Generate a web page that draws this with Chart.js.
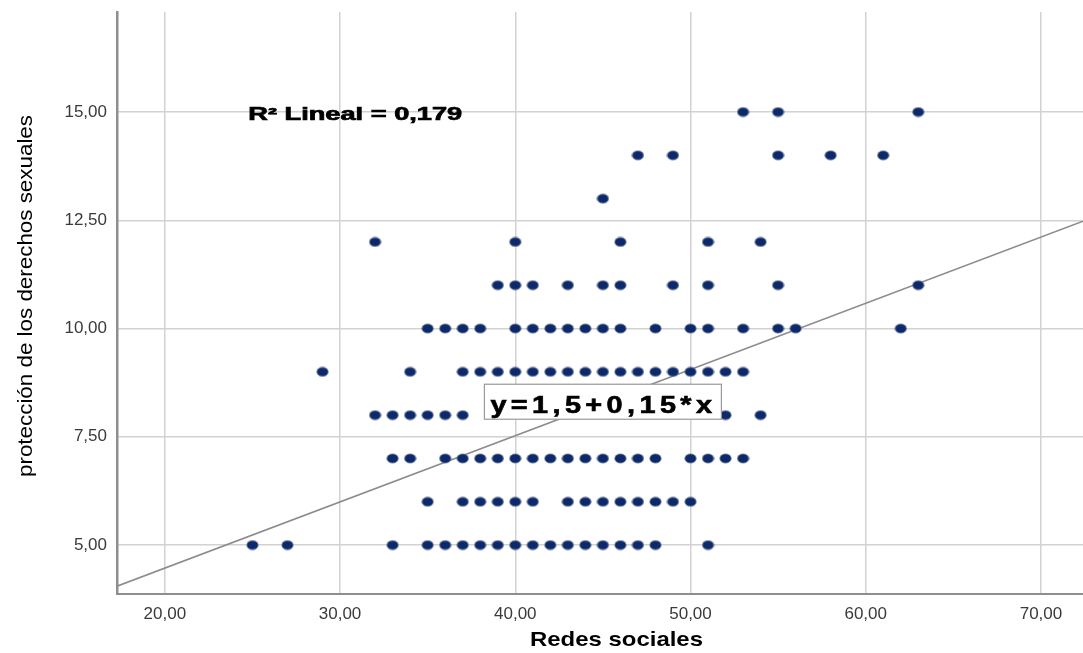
<!DOCTYPE html>
<html lang="es">
<head>
<meta charset="UTF-8">
<title>Redes sociales y protección de los derechos sexuales</title>
<script src="https://cdn.jsdelivr.net/npm/chart.js"></script>
<style>
  html, body { margin: 0; padding: 0; background: #fff; }
  #wrap { width: 1083px; height: 653px; }
</style>
</head>
<body>
<div id="wrap"><canvas id="scatterChart" width="1083" height="653"></canvas></div>
<script>
// Redes sociales (x) de cada caso, agrupado por puntaje de protección (y)
const redesY15 = [53, 55, 63];
const redesY14 = [47, 49, 55, 58, 61];
const redesY13 = [45];
const redesY12 = [32, 40, 46, 51, 54];
const redesY11 = [39, 40, 41, 43, 45, 46, 49, 51, 55, 63];
const redesY10 = [35, 36, 37, 38, 40, 41, 42, 43, 44, 45, 46, 48, 50, 51, 53, 55, 56, 62];
const redesY9 = [29, 34, 37, 38, 39, 40, 41, 42, 43, 44, 45, 46, 47, 48, 49, 50, 51, 52, 53];
const redesY8 = [32, 33, 34, 35, 36, 37, 52, 54];
const redesY7 = [33, 34, 36, 37, 38, 39, 40, 41, 42, 43, 44, 45, 46, 47, 48, 50, 51, 52, 53];
const redesY6 = [35, 37, 38, 39, 40, 41, 43, 44, 45, 46, 47, 48, 49, 50];
const redesY5 = [25, 27, 33, 35, 36, 37, 38, 39, 40, 41, 42, 43, 44, 45, 46, 47, 48, 51];

const proteccionNiveles = [15, 14, 13, 12, 11, 10, 9, 8, 7, 6, 5];
const redesPorNivel = [redesY15, redesY14, redesY13, redesY12, redesY11, redesY10,
                       redesY9, redesY8, redesY7, redesY6, redesY5];

// recta de ajuste (extremos)
const ajusteX = [17.27, 72.4];
const ajusteY = [4.05, 12.48];

const xTicks = [20, 30, 40, 50, 60, 70];
const yTicks = [5, 7.5, 10, 12.5, 15];

const tituloX = 'Redes sociales';
const tituloY = 'protección de los derechos sexuales';
const r2Texto = 'R² Lineal = 0,179';
const ecuacionTexto = 'y=1,5+0,15*x';

// puntos del diagrama
var puntos = [];
proteccionNiveles.forEach(function(nivel, i) {
    redesPorNivel[i].forEach(function(v) {
        puntos.push({ x: v, y: nivel });
    });
});
var recta = ajusteX.map(function(v, i) { return { x: v, y: ajusteY[i] }; });

// marcador ovalado como el de SPSS
function crearMarcador() {
    var c = document.createElement('canvas');
    c.width = 13; c.height = 11;
    var g = c.getContext('2d');
    g.beginPath();
    g.ellipse(6.5, 5.5, 5.7, 4.6, 0, 0, Math.PI * 2);
    g.fillStyle = '#0c2a6b';
    g.fill();
    g.lineWidth = 0.8;
    g.strokeStyle = '#707a94';
    g.stroke();
    return c;
}

function formatoComa(value) {
    return value.toFixed(2).replace('.', ',');
}

// texto estirado horizontalmente hasta un ancho dado (SPSS exporta asi)
function textoAncho(c, txt, x, y, ancho, grosor) {
    var w = c.measureText(txt).width;
    c.save();
    c.translate(x, y);
    c.scale(ancho / w, 1);
    if (grosor) {
        c.lineWidth = grosor;
        c.strokeStyle = c.fillStyle;
        c.strokeText(txt, 0, 0);
    }
    c.fillText(txt, 0, 0);
    c.restore();
}

// titulos de ejes, R2 y ecuacion en recuadro
var textosSpss = {
    id: 'textosSpss',
    afterDatasetsDraw: function(chart) {
        var c = chart.ctx, xs = chart.scales.x, ys = chart.scales.y;
        c.save();
        c.fillStyle = '#000';
        c.textBaseline = 'alphabetic';
        c.textAlign = 'left';

        // R2 Lineal
        c.font = 'bold 18px "Liberation Sans", Arial, sans-serif';
        textoAncho(c, r2Texto, xs.getPixelForValue(24.76), ys.getPixelForValue(15) + 8, 214, 0.7);

        // recuadro con la ecuacion
        var cx = xs.getPixelForValue(45);
        var cy = ys.getPixelForValue(8.31);
        var bw = 237, bh = 35;
        c.fillStyle = '#fff';
        c.fillRect(cx - bw / 2, cy - bh / 2, bw, bh);
        c.strokeStyle = '#9a9a9a';
        c.lineWidth = 1.2;
        c.strokeRect(cx - bw / 2, cy - bh / 2, bw, bh);
        c.fillStyle = '#000';
        c.font = 'bold 23px "Liberation Sans", Arial, sans-serif';
        c.letterSpacing = '3.5px';
        textoAncho(c, ecuacionTexto, cx - bw / 2 + 6, cy + 11, 226, 0.6);
        c.letterSpacing = '0px';

        // titulo eje x
        c.font = 'bold 21px "Liberation Sans", Arial, sans-serif';
        textoAncho(c, tituloX, 530, 646, 173, 0);

        // titulo eje y (vertical)
        c.font = '21px "Liberation Sans", Arial, sans-serif';
        c.save();
        c.translate(32, 477);
        c.rotate(-Math.PI / 2);
        textoAncho(c, tituloY, 0, 0, 362, 0);
        c.restore();
        c.restore();
    }
};

var ctx = document.getElementById('scatterChart').getContext('2d');
var scatterChart = new Chart(ctx, {
    type: 'scatter',
    data: {
        datasets: [{
            label: 'Casos',
            data: puntos,
            pointStyle: crearMarcador(),
            pointRadius: 5,
            pointHoverRadius: 5
        }, {
            label: 'Lineal',
            data: recta,
            showLine: true,
            borderColor: '#8c8c8c',
            borderWidth: 1.6,
            pointRadius: 0,
            fill: false
        }]
    },
    options: {
        responsive: false,
        animation: false,
        layout: { autoPadding: false, padding: { top: 12, right: 0, left: 0, bottom: 0 } },
        plugins: {
            legend: { display: false },
            tooltip: { enabled: false }
        },
        scales: {
            x: {
                type: 'linear',
                min: 17.27,
                max: 72.4,
                afterBuildTicks: function(scale) {
                    scale.ticks = xTicks.map(function(v) { return { value: v }; });
                },
                afterFit: function(scale) {
                    scale.height = 59;
                    scale.paddingLeft = 0;
                    scale.paddingRight = 0;
                },
                grid: { color: '#d2d2d2', lineWidth: 1.5, drawTicks: false },
                border: { color: '#8e8e8e', width: 2 },
                ticks: {
                    padding: 10,
                    color: '#3a3a3a',
                    font: { family: '"Liberation Sans", Arial, sans-serif', size: 17 },
                    callback: formatoComa
                }
            },
            y: {
                type: 'linear',
                min: 3.87,
                max: 17.31,
                afterBuildTicks: function(scale) {
                    scale.ticks = yTicks.map(function(v) { return { value: v }; });
                },
                afterFit: function(scale) {
                    scale.width = 117;
                    scale.paddingTop = 0;
                    scale.paddingBottom = 0;
                },
                grid: { color: '#d2d2d2', lineWidth: 1.5, drawTicks: false },
                border: { color: '#8e8e8e', width: 2.5 },
                ticks: {
                    padding: 10,
                    color: '#3a3a3a',
                    font: { family: '"Liberation Sans", Arial, sans-serif', size: 17 },
                    callback: formatoComa
                }
            }
        }
    },
    plugins: [textosSpss]
});
</script>
</body>
</html>
